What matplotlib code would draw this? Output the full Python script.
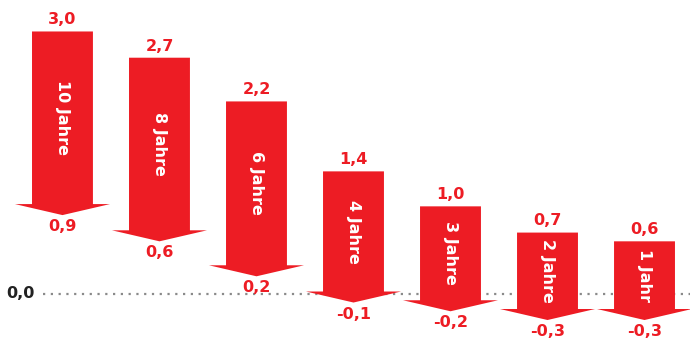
import matplotlib
matplotlib.use("Agg")
import matplotlib.pyplot as plt
from matplotlib.patches import Polygon

# data
labels = ["10 Jahre", "8 Jahre", "6 Jahre", "4 Jahre", "3 Jahre", "2 Jahre", "1 Jahr"]
start = [3.0, 2.7, 2.2, 1.4, 1.0, 0.7, 0.6]
end = [0.9, 0.6, 0.2, -0.1, -0.2, -0.3, -0.3]

red = "#ED1C24"
fmt = lambda v: ("%.1f" % v).replace(".", ",")

fig = plt.figure(figsize=(6.9, 3.41), dpi=100)
ax = fig.add_axes([0, 0, 1, 1])
ax.set_xlim(-0.644, 6.469)
ax.set_ylim(-0.54, 3.36)
ax.axis("off")

bw = 0.314   # half body width
hw = 0.49    # half head width
hl = 0.126   # head length

# zero line
ax.plot([-0.2, 6.5], [0, 0], ls=(0, (1, 2.5)), color="#8a8a8a", lw=1.6, zorder=1)
ax.text(-0.29, 0, "0,0", ha="right", va="center", fontsize=11.5,
        fontweight="bold", color="#222222")

for i, (lab, s, e) in enumerate(zip(labels, start, end)):
    neck = e + hl
    pts = [(i - bw, s), (i + bw, s), (i + bw, neck), (i + hw, neck),
           (i, e), (i - hw, neck), (i - bw, neck)]
    ax.add_patch(Polygon(pts, closed=True, facecolor=red, edgecolor="none", zorder=2))
    ax.annotate(fmt(s), (i, s), xytext=(0, 3), textcoords="offset points",
                ha="center", va="bottom", fontsize=11.5, fontweight="bold", color=red)
    ax.annotate(fmt(e), (i, e), xytext=(0, -3), textcoords="offset points",
                ha="center", va="top", fontsize=11.5, fontweight="bold", color=red)
    ax.text(i, (s + neck) / 2, lab, rotation=270, ha="center", va="center",
            fontsize=11.5, fontweight="bold", color="white", zorder=3)

fig.savefig("out.png", dpi=100)
